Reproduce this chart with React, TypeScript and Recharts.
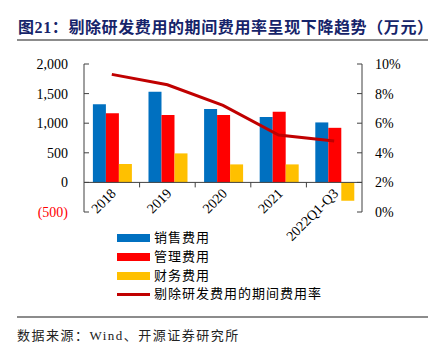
import { ComposedChart, Bar, Line, XAxis, YAxis, ReferenceLine } from "recharts"

const categories = ["2018", "2019", "2020", "2021", "2022Q1-Q3"]
const salesExpense = [1318, 1530, 1238, 1103, 1013]
const adminExpense = [1170, 1137, 1137, 1193, 922]
const financeExpense = [310, 490, 304, 304, -310]
const expenseRate = [9.3, 8.6, 7.2, 5.2, 4.8]

const leftTicks = [-500, 0, 500, 1000, 1500, 2000]
const rightTicks = [0, 2, 4, 6, 8, 10]

const W = 434
const H = 350
const MARGIN = { top: 64, right: 0, bottom: 108, left: 0 }
const LEFT_W = 84
const RIGHT_W = 72
const X_H = 30
const plotTop = MARGIN.top
const plotBottom = H - MARGIN.bottom - X_H
const plotLeft = LEFT_W
const plotRight = W - RIGHT_W
const band = (plotRight - plotLeft) / categories.length
const zeroY = plotTop + ((2000 - 0) / 2500) * (plotBottom - plotTop)

const axisColor = "#404040"
const labelFont = '"Liberation Serif", "Times New Roman", serif'
const cjkFont = '"Liberation Serif", "Noto Sans CJK SC", serif'

const legendItems = [
  { name: "销售费用", color: "#0070C0", kind: "bar" },
  { name: "管理费用", color: "#FF0000", kind: "bar" },
  { name: "财务费用", color: "#FFC000", kind: "bar" },
  { name: "剔除研发费用的期间费用率", color: "#C00000", kind: "line" },
]

const chartData = categories.map((c, i) => ({
  name: c,
  sales: salesExpense[i],
  admin: adminExpense[i],
  finance: financeExpense[i],
  rate: expenseRate[i],
}))

function LeftTick({ x, y, payload }: any) {
  const v = payload.value as number
  const axisX = x + 16
  return (
    <g>
      <line x1={axisX} x2={axisX + 5} y1={y} y2={y} stroke={axisColor} />
      <text x={x} y={y} dy={5} textAnchor="end" fontSize={14} fontFamily={labelFont} fill={v < 0 ? "#FF0000" : "#000"}>
        {v < 0 ? `(${Math.abs(v).toLocaleString("en-US")})` : v.toLocaleString("en-US")}
      </text>
    </g>
  )
}

function RightTick({ x, y, payload }: any) {
  const axisX = x - 13
  return (
    <g>
      <line x1={axisX - 5} x2={axisX} y1={y} y2={y} stroke={axisColor} />
      <text x={x} y={y} dy={5} textAnchor="start" fontSize={14} fontFamily={labelFont} fill="#000">
        {`${payload.value}%`}
      </text>
    </g>
  )
}

function CategoryTick({ x, index, payload }: any) {
  const tx = x + 5
  const ty = zeroY + 12
  return (
    <g>
      {index > 0 && <line x1={x - band / 2} x2={x - band / 2} y1={zeroY} y2={zeroY + 5} stroke={axisColor} />}
      <text x={tx} y={ty} textAnchor="end" fontSize={14} fontFamily={labelFont} fill="#000" transform={`rotate(-45 ${tx} ${ty})`}>
        {payload.value}
      </text>
    </g>
  )
}

export default function App() {
  return (
    <div style={{ position: "fixed", left: 0, top: 0, width: W, height: H, background: "#fff" }}>
      <div
        style={{
          position: "absolute",
          left: 18,
          top: 14,
          fontSize: 16,
          fontWeight: "bold",
          color: "#16246a",
          fontFamily: cjkFont,
          whiteSpace: "nowrap",
          letterSpacing: 0.6,
        }}
      >
        图21：剔除研发费用的期间费用率呈现下降趋势（万元）
      </div>
      <div style={{ position: "absolute", left: 17, top: 39, width: 411, height: 2, background: "#8c8c8c" }} />

      <div style={{ position: "absolute", left: 0, top: 0 }}>
        <ComposedChart width={W} height={H} data={chartData} margin={MARGIN} barCategoryGap="16%" barGap={0}>
          <XAxis dataKey="name" height={X_H} axisLine={false} tickLine={false} tick={<CategoryTick />} interval={0} />
          <YAxis
            yAxisId="left"
            width={LEFT_W}
            domain={[-500, 2000]}
            ticks={leftTicks}
            interval={0}
            tickSize={0}
            tickMargin={16}
            tickLine={false}
            axisLine={{ stroke: axisColor }}
            tick={<LeftTick />}
          />
          <YAxis
            yAxisId="right"
            orientation="right"
            width={RIGHT_W}
            domain={[0, 10]}
            ticks={rightTicks}
            interval={0}
            tickSize={0}
            tickMargin={13}
            tickLine={false}
            axisLine={{ stroke: axisColor }}
            tick={<RightTick />}
          />
          <Bar yAxisId="left" dataKey="sales" fill="#0070C0" isAnimationActive={false} />
          <Bar yAxisId="left" dataKey="admin" fill="#FF0000" isAnimationActive={false} />
          <Bar yAxisId="left" dataKey="finance" fill="#FFC000" isAnimationActive={false} />
          <ReferenceLine yAxisId="left" y={0} stroke={axisColor} strokeWidth={1} />
          <Line
            yAxisId="right"
            type="linear"
            dataKey="rate"
            stroke="#C00000"
            strokeWidth={3}
            dot={false}
            isAnimationActive={false}
          />
        </ComposedChart>
      </div>

      <div style={{ position: "absolute", left: 117, top: 229 }}>
        {legendItems.map((item) => (
          <div key={item.name} style={{ display: "flex", alignItems: "center", height: 18.7 }}>
            <div
              style={{
                width: 33,
                height: item.kind === "bar" ? 8 : 3,
                background: item.color,
                marginRight: 4,
              }}
            />
            <span style={{ fontSize: 13, fontFamily: cjkFont, letterSpacing: 1, color: "#000", lineHeight: "18px" }}>
              {item.name}
            </span>
          </div>
        ))}
      </div>

      <div style={{ position: "absolute", left: 17, top: 316, width: 411, height: 1.5, background: "#8c8c8c" }} />
      <div
        style={{
          position: "absolute",
          left: 17,
          top: 325,
          fontSize: 13,
          letterSpacing: 1.5,
          fontFamily: cjkFont,
          color: "#222",
          whiteSpace: "nowrap",
        }}
      >
        数据来源：Wind、开源证券研究所
      </div>
    </div>
  )
}
